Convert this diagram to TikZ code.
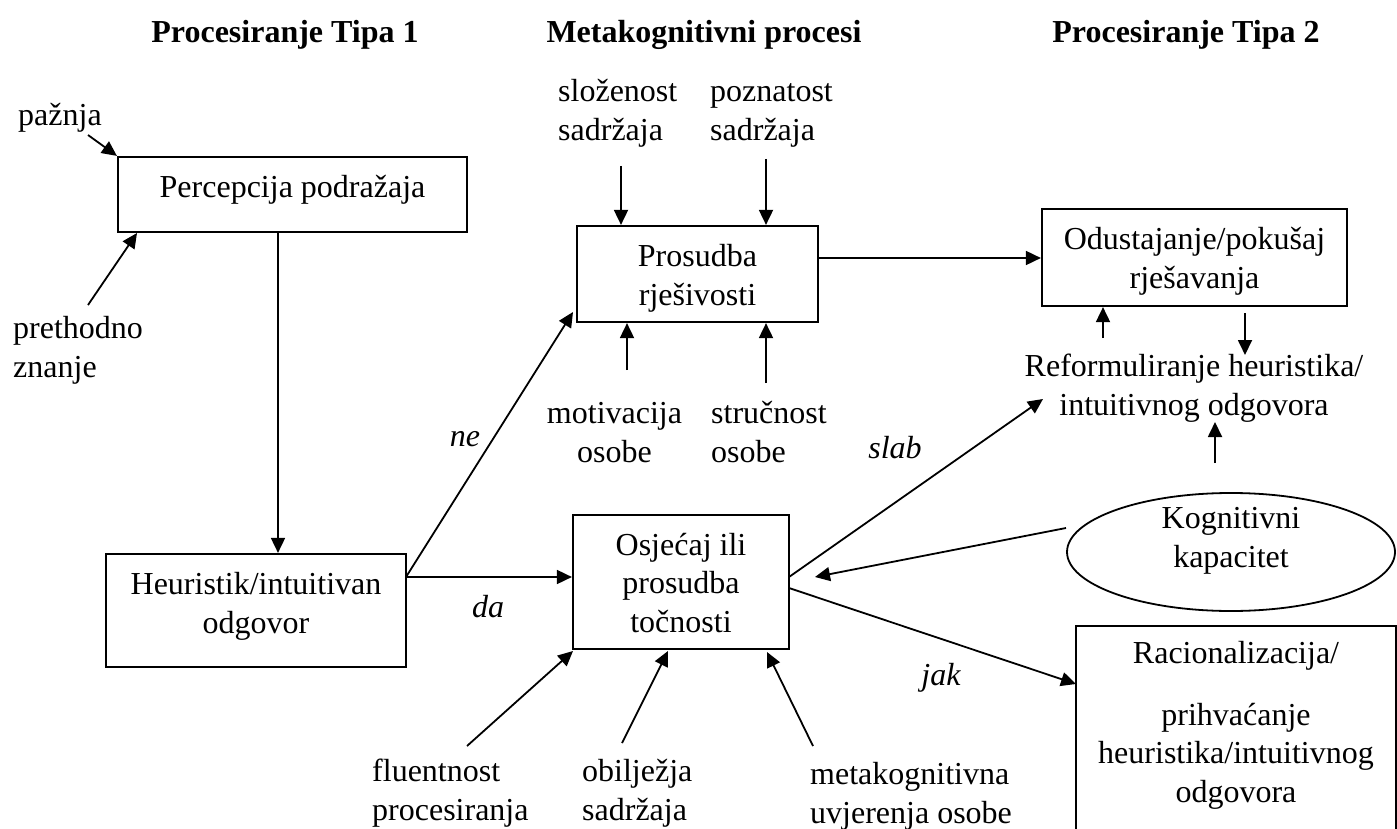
\documentclass[tikz,border=0pt]{standalone}
\usepackage{fontspec}
\setmainfont{Liberation Serif}
\usetikzlibrary{arrows.meta,shapes.geometric,calc}
\begin{document}
\begin{tikzpicture}[x=1pt,y=-1pt,
  every node/.style={font=\fontsize{32}{38.4}\selectfont, inner sep=0pt, text height=22pt, text depth=7pt},
  box/.style={draw, line width=2.2pt, align=center},
  lbl/.style={align=left},
  clbl/.style={align=center},
  hdr/.style={font=\fontsize{32}{38.4}\selectfont\bfseries},
  lab/.style={font=\fontsize{32}{38.4}\selectfont\itshape},
  arr/.style={line width=1.8pt, -{Triangle[length=15pt,width=14pt]}}]
\useasboundingbox (0,0) rectangle (1397,829);

% headers
\node[hdr, anchor=north] (h1) at (285,20) {Procesiranje Tipa 1};
\node[hdr, anchor=north] (h2) at (704,20) {Metakognitivni procesi};
\node[hdr, anchor=north] (h3) at (1186,20) {Procesiranje Tipa 2};

% boxes
\node[box, minimum width=349pt, minimum height=75pt, text height=20pt, text depth=15pt] (perc) at (292.5,194.5) {Percepcija podražaja};
\node[box, minimum width=300pt, minimum height=113pt, text height=50pt, text depth=5pt] (heur) at (256,610.5) {Heuristik/intuitivan\\odgovor};
\node[box, minimum width=241pt, minimum height=96pt, text height=65pt, text depth=3pt] (pros) at (697.5,274) {Prosudba\\rješivosti};
\node[box, minimum width=216pt, minimum height=134pt, text height=102pt, text depth=2pt] (osj) at (681,582) {Osjećaj ili\\prosudba\\točnosti};
\node[box, minimum width=305pt, minimum height=97pt, text height=63pt, text depth=2pt] (odus) at (1194.5,257.5) {Odustajanje/pokušaj\\rješavanja};
\node[box, minimum width=320pt, minimum height=260pt, text height=94pt, text depth=2pt] (rac) at (1236,756) {Racionalizacija/\\[23.6pt]prihvaćanje\\heuristika/intuitivnog\\odgovora};
\node[draw, ellipse, line width=1.8pt, minimum width=328pt, minimum height=118pt, align=center, text height=32pt, text depth=2pt] (kog) at (1231,552) {Kognitivni\\kapacitet};

% free labels
\node[lbl, anchor=north west] (pazn) at (18,103) {pažnja};
\node[lbl, anchor=north west] (pret) at (13,355) {prethodno\\znanje};
\node[lbl, anchor=north west] (slo) at (558,118) {složenost\\sadržaja};
\node[lbl, anchor=north west] (poz) at (710,118) {poznatost\\sadržaja};
\node[clbl, anchor=north] (mot) at (614.5,440) {motivacija\\osobe};
\node[lbl, anchor=north west] (str) at (711,440) {stručnost\\osobe};
\node[lbl, anchor=north west] (flu) at (372,798) {fluentnost\\procesiranja};
\node[lbl, anchor=north west] (obi) at (582,798) {obilježja\\sadržaja};
\node[lbl, anchor=north west] (met) at (810,801) {metakognitivna\\uvjerenja osobe};
\node[clbl, anchor=north] (ref) at (1194,393) {Reformuliranje heuristika/\\intuitivnog odgovora};

\node[lab, anchor=north] (ne) at (465,424) {ne};
\node[lab, anchor=north] (da) at (488,595) {da};
\node[lab, anchor=north] (slab) at (895,436) {slab};
\node[lab, anchor=north] (jak) at (941,663) {jak};

% connector end points
\coordinate (pa1) at (88,135);
\coordinate (pr1) at (88,305);
\coordinate (pr2) at (137,233);
\coordinate (pdx) at (278,0);
\coordinate (hout) at (406,577);
\coordinate (neend) at (573,312);
\coordinate (slo1) at (621,166);
\coordinate (poz1) at (766,159);
\coordinate (mot1) at (627,370);
\coordinate (str1) at (766,383);
\coordinate (pry) at (0,258);
\coordinate (up1) at (1103,338);
\coordinate (dn1) at (1245,313);
\coordinate (dn2) at (1245,355);
\coordinate (kr1) at (1215,463);
\coordinate (kr2) at (1215,422);
\coordinate (oout1) at (789,577);
\coordinate (oout2) at (789,588);
\coordinate (slabend) at (1043,399);
\coordinate (kog1) at (1066,528);
\coordinate (kogend) at (815,577);
\coordinate (jakend) at (1076,684);
\coordinate (flu1) at (467,746);
\coordinate (flu2) at (573,651);
\coordinate (obi1) at (622,743);
\coordinate (obi2) at (668,651);
\coordinate (met1) at (813,746);
\coordinate (met2) at (767,652);

% connectors
\draw[arr] (pa1) -- (perc.north west);
\draw[arr] (pr1) -- (pr2);
\draw[arr] (perc.south -| pdx) -- (heur.north -| pdx);
\draw[arr] (hout) -- (neend);
\draw[arr] (hout) -- (osj.west |- hout);
\draw[arr] (slo1) -- (pros.north -| slo1);
\draw[arr] (poz1) -- (pros.north -| poz1);
\draw[arr] (mot1) -- (pros.south -| mot1);
\draw[arr] (str1) -- (pros.south -| str1);
\draw[arr] (pros.east |- pry) -- (odus.west |- pry);
\draw[arr] (up1) -- (odus.south -| up1);
\draw[arr] (dn1) -- (dn2);
\draw[arr] (kr1) -- (kr2);
\draw[arr] (oout1) -- (slabend);
\draw[arr] (kog1) -- (kogend);
\draw[arr] (oout2) -- (jakend);
\draw[arr] (flu1) -- (flu2);
\draw[arr] (obi1) -- (obi2);
\draw[arr] (met1) -- (met2);
\end{tikzpicture}
\end{document}
